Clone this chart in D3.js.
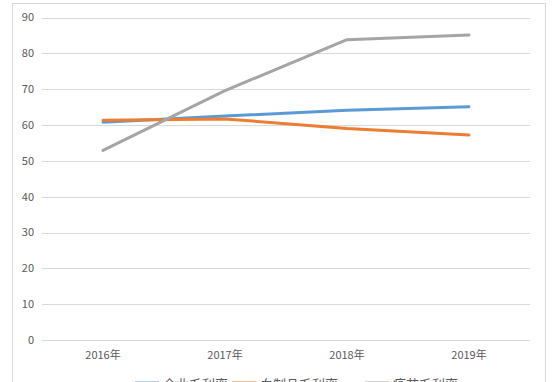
<!DOCTYPE html>
<html>
<head>
<meta charset="utf-8">
<script src="https://cdn.jsdelivr.net/npm/d3@7.9.0/dist/d3.min.js"></script>
<style>
  body { margin: 0; background: #fff; }
  svg { display: block; font-family: "Noto Sans CJK SC", "DejaVu Sans", sans-serif; }
</style>
</head>
<body>
<svg id="chart" width="555" height="382"></svg>
<script>
const years = ['2016年', '2017年', '2018年', '2019年'];
const seriesNames = ['企业毛利率', '血制品毛利率', '疫苗毛利率'];
const companyMargin = [60.8, 62.5, 64.1, 65.1];
const bloodMargin = [61.3, 61.7, 59.0, 57.2];
const vaccineMargin = [52.9, 69.6, 83.8, 85.1];
const yTicks = [0, 10, 20, 30, 40, 50, 60, 70, 80, 90];
const colors = ['#5b9bd5', '#ed7d31', '#a5a5a5'];

const series = seriesNames.map((name, i) => ({
  name,
  values: [companyMargin, bloodMargin, vaccineMargin][i],
  color: colors[i]
}));

const svg = d3.select('#chart');
const margin = { left: 42, right: 25, top: 17.5, bottom: 42 };
const width = 555, height = 382;

// chart area border
svg.append('rect')
  .attr('x', 12.5).attr('y', 3.5)
  .attr('width', 533).attr('height', 400)
  .attr('fill', 'none').attr('stroke', '#d9d9d9');

const x = d3.scaleBand()
  .domain(years)
  .range([margin.left, width - margin.right]);

const y = d3.scaleLinear()
  .domain([0, 90])
  .range([height - margin.bottom, margin.top]);

// gridlines
svg.append('g')
  .selectAll('line')
  .data(yTicks)
  .join('line')
  .attr('x1', margin.left).attr('x2', width - margin.right)
  .attr('y1', d => Math.round(y(d)) + 0.5).attr('y2', d => Math.round(y(d)) + 0.5)
  .attr('stroke', '#d9d9d9');

// y labels
svg.append('g')
  .selectAll('text')
  .data(yTicks)
  .join('text')
  .attr('x', 34)
  .attr('y', d => y(d))
  .attr('dy', '0.35em')
  .attr('text-anchor', 'end')
  .attr('font-size', 11)
  .attr('fill', '#595959')
  .text(d => d);

// x labels
svg.append('g')
  .selectAll('text')
  .data(years)
  .join('text')
  .attr('x', d => x(d) + x.bandwidth() / 2)
  .attr('y', height - margin.bottom + 19)
  .attr('text-anchor', 'middle')
  .attr('font-size', 11)
  .attr('fill', '#595959')
  .text(d => d);

const line = d3.line()
  .x((d, i) => x(years[i]) + x.bandwidth() / 2)
  .y(d => y(d));

svg.append('g')
  .selectAll('path')
  .data(series)
  .join('path')
  .attr('d', d => line(d.values))
  .attr('fill', 'none')
  .attr('stroke', d => d.color)
  .attr('stroke-width', 3)
  .attr('stroke-linejoin', 'round')
  .attr('stroke-linecap', 'round');

// legend (cut off at bottom, as in the original)
const legendX = [135, 232, 365];
const legend = svg.append('g')
  .selectAll('g')
  .data(series)
  .join('g')
  .attr('transform', (d, i) => `translate(${legendX[i]},0)`);

legend.append('line')
  .attr('x1', 0).attr('x2', 24)
  .attr('y1', 383).attr('y2', 383)
  .attr('stroke', d => d.color)
  .attr('stroke-width', 3);

legend.append('text')
  .attr('x', 28)
  .attr('y', 389)
  .attr('font-size', 13)
  .attr('fill', '#595959')
  .text(d => d.name);
</script>
</body>
</html>
